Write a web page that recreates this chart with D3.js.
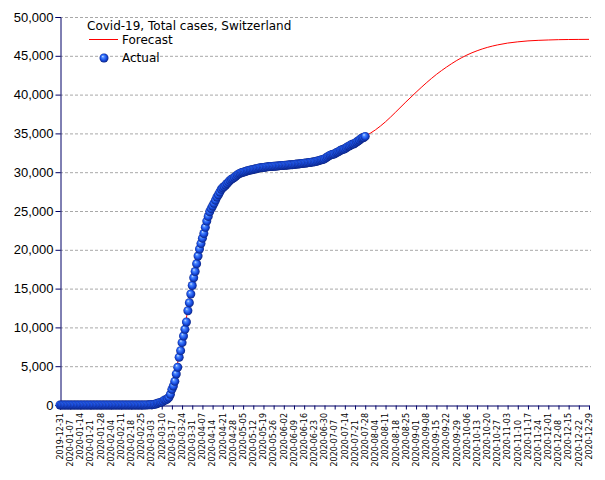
<!DOCTYPE html>
<html><head><meta charset="utf-8">
<script src="https://cdn.jsdelivr.net/npm/d3@7"></script>
<style>body{margin:0;background:#fff}svg{display:block}</style>
</head><body>
<script>
const title = "Covid-19, Total cases, Switzerland";
const legendLabels = ["Forecast", "Actual"];
const tickLabels = ["2019-12-31","2020-01-07","2020-01-14","2020-01-21","2020-01-28","2020-02-04","2020-02-11","2020-02-18","2020-02-25","2020-03-03","2020-03-10","2020-03-17","2020-03-24","2020-03-31","2020-04-07","2020-04-14","2020-04-21","2020-04-28","2020-05-05","2020-05-12","2020-05-19","2020-05-26","2020-06-02","2020-06-09","2020-06-16","2020-06-23","2020-06-30","2020-07-07","2020-07-14","2020-07-21","2020-07-28","2020-08-04","2020-08-11","2020-08-18","2020-08-25","2020-09-01","2020-09-08","2020-09-15","2020-09-22","2020-09-29","2020-10-06","2020-10-13","2020-10-20","2020-10-27","2020-11-03","2020-11-10","2020-11-17","2020-11-24","2020-12-01","2020-12-08","2020-12-15","2020-12-22","2020-12-29"];
const yTicks = [0,5000,10000,15000,20000,25000,30000,35000,40000,45000,50000];

// Actual: daily values starting 2019-12-31
const actualStart = "2019-12-31";
const actualValues = [
  0,
  0,0,0,0,0,0,0,0,0,0,0,0,0,0,0,0,0,0,0,0,0,0,0,0,0,0,0,0,0,0,0,
  0,0,0,0,0,0,0,0,0,0,0,0,0,0,0,0,0,0,0,0,0,0,0,0,
  0,1,1,8,8,
  18,27,42,56,90,114,214,268,337,374,491,652,652,800,990,1380,2020,2450,3050,4000,4860,6150,7000,8030,8890,9750,10700,12150,13180,14300,15400,
  16400,17200,18200,19200,20100,20800,21500,22100,22900,23700,24300,24900,25300,25650,26000,26400,26800,27100,27450,27800,28000,28150,28350,28550,28750,28950,29100,29200,29350,29500,
  29650,29780,29870,29950,30000,30050,30110,30180,30230,30280,30320,30360,30400,30440,30490,30550,30580,30595,30610,30640,30680,30700,30720,30735,30745,30755,30770,30790,30815,30840,30860,
  30870,30874,30890,30910,30935,30955,30965,30972,30988,31011,31044,31063,31094,31117,31131,31154,31187,31200,31235,31243,31292,31310,31332,31376,31428,31486,31555,31600,31652,31714,
  31851,31967,32101,32198,32268,32315,32369,32498,32586,32690,32817,32883,32946,33016,33148,33290,33382,33492,33591,33634,33742,33883,34000,34154,34302,34412,34477,34609
];

const forecastDates = ["2020-03-03","2020-03-10","2020-03-17","2020-03-24","2020-03-31","2020-04-07","2020-04-14","2020-04-21","2020-04-28","2020-05-05","2020-05-12","2020-05-19","2020-05-26","2020-06-02","2020-06-09","2020-06-16","2020-06-23","2020-06-30","2020-07-07","2020-07-14","2020-07-21","2020-07-28","2020-08-04","2020-08-11","2020-08-18","2020-08-25","2020-09-01","2020-09-08","2020-09-15","2020-09-22","2020-09-29","2020-10-06","2020-10-13","2020-10-20","2020-10-27","2020-11-03","2020-11-10","2020-11-17","2020-11-24","2020-12-01","2020-12-08","2020-12-15","2020-12-22","2020-12-29"];
const forecastValues = [80,600,2400,8300,15300,21400,25500,27900,29150,29950,30330,30600,30760,30880,31000,31160,31340,31720,32380,33020,33750,34609,35450,36500,37750,39050,40300,41500,42600,43550,44400,45100,45650,46080,46400,46640,46800,46920,46990,47040,47080,47100,47110,47120];

const W = 605, H = 480;
const L = 60, R = 589, T = 17, B = 405;
const parse = d3.utcParse("%Y-%m-%d");
const x = d3.scaleUtc().domain([parse(tickLabels[0]), parse(tickLabels[tickLabels.length-1])]).range([L, R]);
const y = d3.scaleLinear().domain([0, 50000]).range([B, T]);

const svg = d3.select("body").append("svg").attr("width", W).attr("height", H);
const defs = svg.append("defs");
const g = defs.append("radialGradient").attr("id","ball").attr("cx","0.5").attr("cy","0.5").attr("r","0.55").attr("fx","0.35").attr("fy","0.3");
[["0%","#d8e6ff"],["25%","#4f8cff"],["60%","#1a50e6"],["100%","#081a70"]].forEach(s=>g.append("stop").attr("offset",s[0]).attr("stop-color",s[1]));

// grid
svg.append("g").selectAll("line").data(yTicks.filter(d=>d>0)).join("line")
  .attr("x1", L).attr("x2", R+2).attr("y1", d=>y(d)+0.5).attr("y2", d=>y(d)+0.5)
  .attr("stroke","#a8a8a8").attr("stroke-width",1).attr("stroke-dasharray","3,2");

// y axis
const ya = svg.append("g").attr("transform",`translate(${L+0.5},0)`)
  .call(d3.axisLeft(y).tickValues(yTicks).tickFormat(d3.format(",")).tickSize(5).tickPadding(2));
ya.select(".domain").attr("stroke","#000066");
ya.selectAll(".tick line").attr("stroke","#000066");
ya.selectAll(".tick text").attr("font-family","'Liberation Sans', Arial, sans-serif").attr("font-size",13).attr("fill","#000");

// x axis
const xa = svg.append("g").attr("transform",`translate(0,${B+0.5})`)
  .call(d3.axisBottom(x).tickValues(tickLabels.map(parse)).tickSize(4).tickFormat(""));
xa.select(".domain").attr("stroke","#000066");
xa.selectAll(".tick line").attr("stroke","#000066");

svg.append("g").selectAll("text").data(tickLabels).join("text")
  .attr("transform",(d,i)=>`translate(${x(parse(d))},${413 + (i%2)*7}) rotate(-90)`)
  .attr("text-anchor","end").attr("dy","0.35em")
  .attr("font-family","'DejaVu Sans', sans-serif").attr("font-size",8).attr("fill","#000")
  .text(d=>d);

// forecast line
svg.append("path")
  .datum(forecastDates.map((d,i)=>[parse(d), forecastValues[i]]))
  .attr("fill","none").attr("stroke","#ff0000").attr("stroke-width",1)
  .attr("d", d3.line().x(d=>x(d[0])).y(d=>y(d[1])).curve(d3.curveMonotoneX));

// actual points
const start = parse(actualStart);
svg.append("g").selectAll("circle").data(actualValues).join("circle")
  .attr("cx",(d,i)=>x(d3.utcDay.offset(start,i)))
  .attr("cy",d=>y(d))
  .attr("r",4.5)
  .attr("fill","url(#ball)");

// title & legend
const font = "'DejaVu Sans', sans-serif";
svg.append("text").attr("x",87).attr("y",29.5).attr("font-family",font).attr("font-size",12).text(title);
svg.append("line").attr("x1",89).attr("x2",118).attr("y1",39.5).attr("y2",39.5).attr("stroke","#ff0000").attr("stroke-width",1);
svg.append("text").attr("x",122).attr("y",43.5).attr("font-family",font).attr("font-size",12).text(legendLabels[0]);
svg.append("circle").attr("cx",104).attr("cy",58).attr("r",4.5).attr("fill","url(#ball)");
svg.append("text").attr("x",122).attr("y",61.5).attr("font-family",font).attr("font-size",12).text(legendLabels[1]);
</script>
</body></html>
